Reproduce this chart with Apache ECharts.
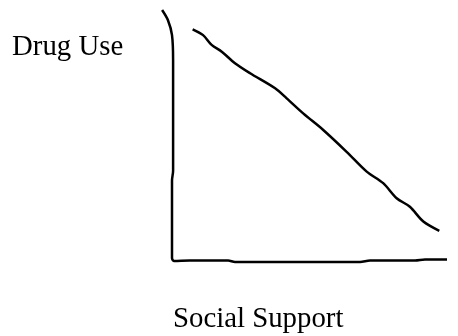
<!DOCTYPE html>
<html>
<head>
<meta charset="utf-8">
<script src="https://cdn.jsdelivr.net/npm/echarts@6/dist/echarts.min.js"></script>
<style>
  html, body { margin: 0; padding: 0; background: #fff; }
  #chart { width: 458px; height: 336px; }
</style>
</head>
<body>
<div id="chart"></div>
<script>
// 轴标题
var yTitle = "Drug Use";
var xTitle = "Social Support";

// 手绘的下降线 (x: 社会支持, y: 药物使用, 0-100)
var trendX = [7.5, 11.3, 14.4, 18.1, 22.9, 28.4, 37.5, 41.7, 47.7, 55.0, 63.5, 70.8, 76.8, 81.7, 86.5, 91.4, 97.2];
var trendY = [92.3, 90.0, 86.1, 83.4, 78.8, 74.8, 68.8, 64.8, 58.8, 52.2, 43.5, 35.6, 31.0, 25.0, 21.6, 15.7, 12.0];

// 手绘的坐标轴笔画
var axisX = [-3.6, -1.5, 0, 0.4, 0.4, 0, 0, 0.7, 6.5, 20.4, 22.9, 68.4, 72, 88.4, 92, 100];
var axisY = [100, 96, 90, 80, 36, 32, 1.2, 0, 0.2, 0.2, -0.4, -0.4, 0.2, 0.2, 0.6, 0.6];

function pairs(xs, ys) {
  return xs.map(function (x, i) { return [x, ys[i]]; });
}

var myChart = echarts.init(document.getElementById("chart"));

var option = {
  animation: false,
  grid: { left: 158.25, right: 11, top: 10, bottom: 70 },
  xAxis: { type: "value", min: -5, max: 100, show: false },
  yAxis: { type: "value", min: -2, max: 100, show: false },
  graphic: [
    {
      type: "text",
      left: 12,
      top: 33,
      style: { text: yTitle, font: "28.8px 'Liberation Serif'", fill: "#000" }
    },
    {
      type: "text",
      left: 173,
      top: 305,
      style: { text: xTitle, font: "28.8px 'Liberation Serif'", fill: "#000" }
    }
  ],
  series: [
    {
      type: "line",
      data: pairs(axisX, axisY),
      showSymbol: false,
      smooth: 0.3,
      clip: false,
      lineStyle: { color: "#000", width: 2.5 }
    },
    {
      type: "line",
      data: pairs(trendX, trendY),
      showSymbol: false,
      smooth: 0.3,
      clip: false,
      lineStyle: { color: "#000", width: 2.5 }
    }
  ]
};

myChart.setOption(option);
</script>
</body>
</html>
